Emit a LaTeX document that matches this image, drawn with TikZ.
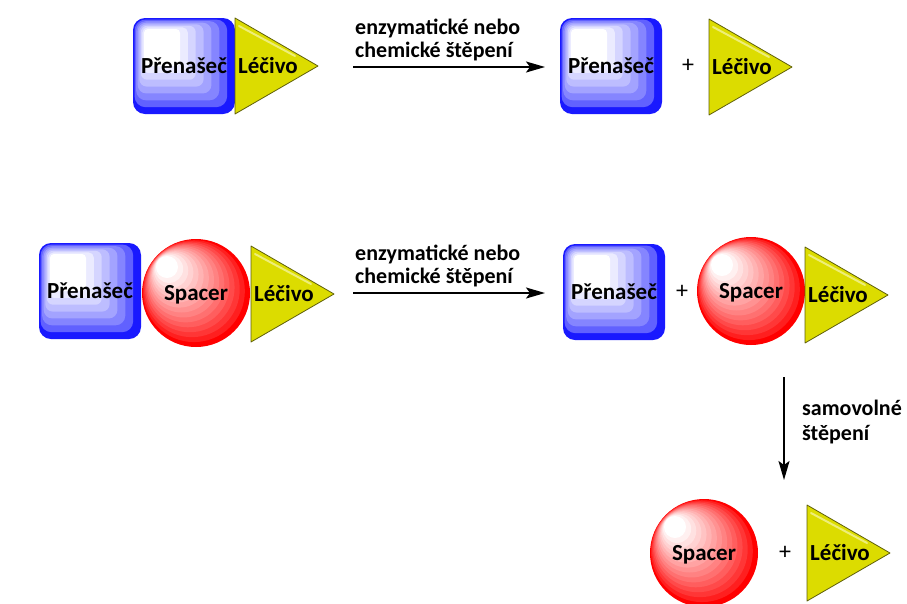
\documentclass[tikz,border=0pt]{standalone}
\usepackage{fontspec}
\setmainfont{Carlito}
\usetikzlibrary{arrows.meta}

\definecolor{carrierblue}{RGB}{25,25,255}
\definecolor{spacerred}{RGB}{255,0,0}
\definecolor{drugyellow}{RGB}{220,220,0}
\definecolor{drugedge}{RGB}{95,95,10}
\definecolor{drugshine}{RGB}{238,238,120}

\tikzset{
  lbl/.style={font=\fontsize{22}{26}\selectfont\bfseries, inner sep=0pt, anchor=base west},
  tag/.style={font=\fontsize{23}{27}\selectfont\bfseries, inner sep=0pt, anchor=base},
  plus/.style={font=\fontsize{24}{28}\selectfont, inner sep=0pt},
  arr/.style={line width=1.6pt, -{Stealth[length=19pt,width=11pt,inset=4pt]}},
  drugshape/.style={fill=drugyellow, draw=drugedge, line width=0.8pt, line join=round},
  drugglint/.style={draw=drugshine, line width=2pt, line cap=round},
}

% carrier: stepped rounded square, light corner at the upper left
\newcommand\carrierat[3]{% name, centre x, centre y
  \foreach \k in {0,...,7}{
    \pgfmathsetmacro\fr{\k/7}
    \pgfmathsetmacro\pc{100*\fr^0.6}
    \pgfmathsetmacro\rc{12-8*\fr}
    \fill[white!\pc!carrierblue, rounded corners=\rc pt]
      (#2-51+11*\fr, #3-48+11*\fr) rectangle (#2+51-55*\fr, #3+48-48*\fr);
  }
  \node[tag] (#1) at (#2,#3+7) {Přenašeč};
}

% spacer: stepped sphere, highlight at the upper left
\newcommand\spacerat[3]{% name, centre x, centre y
  \foreach \k in {0,...,14}{
    \pgfmathsetmacro\fr{\k/14}
    \pgfmathsetmacro\pc{100*\fr^0.8}
    \pgfmathsetmacro\rr{54-43*\fr}
    \fill[white!\pc!spacerred] (#2-29*\fr, #3-26*\fr) circle[radius=\rr pt];
  }
  \node[tag] (#1) at (#2,#3+7) {Spacer};
}

% drug: yellow triangle pointing right, with a light glint along its upper edge
\newcommand\drugat[3]{% name, left x, centre y
  \draw[drugshape] (#2,#3-48) -- (#2+83,#3) -- (#2,#3+48) -- cycle;
  \draw[drugglint] (#2+4,#3-40) -- (#2+60,#3-10);
  \node[tag] (#1) at (#2+33,#3+7) {Léčivo};
}

\begin{document}
\begin{tikzpicture}[x=1pt, y=-1pt]
  \useasboundingbox (0,0) rectangle (907,603);

  % first reaction
  \carrierat{ca}{184}{66}
  \drugat{da}{235}{66}
  \coordinate (a1s) at (353,67);
  \coordinate (a1e) at (545,67);
  \draw[arr] (a1s) -- (a1e);
  \node[lbl] (t1a) at (355,34) {enzymatické nebo};
  \node[lbl] (t1b) at (355,57) {chemické štěpení};
  \carrierat{cb}{611}{66}
  \node[plus] (p1) at (688,66) {+};
  \drugat{db}{709}{67}

  % second reaction
  \carrierat{cc}{90}{291}
  \spacerat{sc}{196}{293}
  \drugat{dc}{251}{294}
  \coordinate (a2s) at (353,293);
  \coordinate (a2e) at (545,293);
  \draw[arr] (a2s) -- (a2e);
  \node[lbl] (t2a) at (355,260) {enzymatické nebo};
  \node[lbl] (t2b) at (355,283) {chemické štěpení};
  \carrierat{cd}{614}{292}
  \node[plus] (p2) at (682,292) {+};
  \spacerat{sd}{751}{291}
  \drugat{dd}{805}{295}

  % spontaneous cleavage
  \coordinate (a3s) at (784,377);
  \coordinate (a3e) at (784,480);
  \draw[arr] (a3s) -- (a3e);
  \node[lbl] (t3a) at (802,415) {samovolné};
  \node[lbl] (t3b) at (802,440) {štěpení};
  \spacerat{se}{704}{553}
  \node[plus] (p3) at (785,553) {+};
  \drugat{de}{807}{553}
\end{tikzpicture}
\end{document}
